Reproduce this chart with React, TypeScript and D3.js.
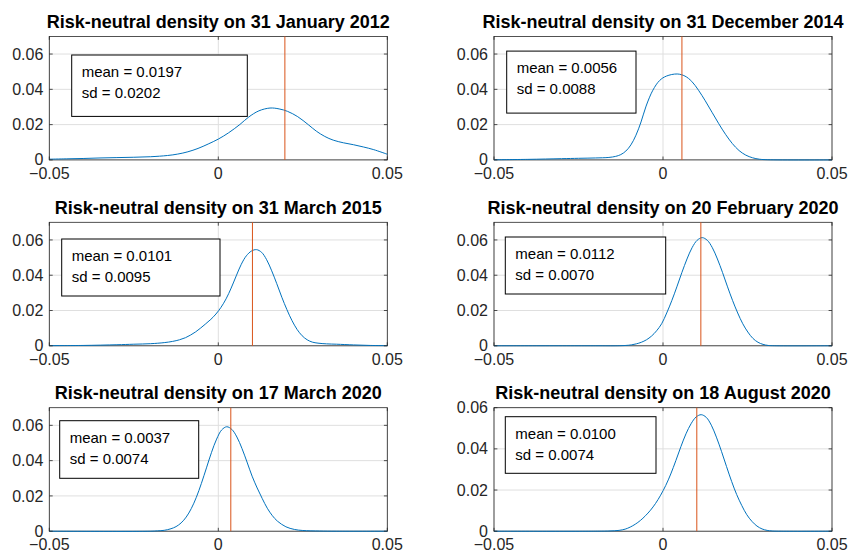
import React from "react";
import * as d3 from "d3";

// ---------- data ----------
const titles = [
  "Risk-neutral density on 31 January 2012",
  "Risk-neutral density on 31 December 2014",
  "Risk-neutral density on 31 March 2015",
  "Risk-neutral density on 20 February 2020",
  "Risk-neutral density on 17 March 2020",
  "Risk-neutral density on 18 August 2020",
];
const means = [0.0197, 0.0056, 0.0101, 0.0112, 0.0037, 0.01];
const meanLabels = ["0.0197", "0.0056", "0.0101", "0.0112", "0.0037", "0.0100"];
const sdLabels = ["0.0202", "0.0088", "0.0095", "0.0070", "0.0074", "0.0074"];
const yMaxes = [0.07, 0.07, 0.07, 0.07, 0.07, 0.06];
const xTicks = [-0.05, 0, 0.05];
const yTicks = [0, 0.02, 0.04, 0.06];

const densJan2012: [number, number][] = [
  [-0.05, 0.0004], [-0.045, 0.0006], [-0.04, 0.0008], [-0.035, 0.0011], [-0.03, 0.0013],
  [-0.025, 0.0015], [-0.02, 0.0018], [-0.015, 0.0025], [-0.012, 0.0033], [-0.009, 0.0046],
  [-0.006, 0.0065], [-0.003, 0.009], [0, 0.0118], [0.003, 0.0153], [0.0064, 0.0201],
  [0.009, 0.0243], [0.012, 0.0278], [0.0153, 0.0294], [0.018, 0.0289], [0.0205, 0.0275],
  [0.0235, 0.0245], [0.0266, 0.02], [0.029, 0.0163], [0.0315, 0.0133], [0.034, 0.0112],
  [0.037, 0.0097], [0.04, 0.0086], [0.043, 0.0073], [0.046, 0.0058], [0.05, 0.0032],
];
const densDec2014: [number, number][] = [
  [-0.05, 0.0001], [-0.04, 0.0003], [-0.03, 0.0007], [-0.025, 0.0009], [-0.02, 0.0011],
  [-0.016, 0.0014], [-0.014, 0.002], [-0.0125, 0.003], [-0.011, 0.005], [-0.0095, 0.0085],
  [-0.008, 0.014], [-0.0065, 0.0215], [-0.005, 0.0305], [-0.003, 0.0395], [-0.001, 0.045],
  [0.001, 0.0475], [0.0042, 0.0487], [0.0065, 0.0475], [0.0085, 0.0445], [0.0105, 0.0395],
  [0.0125, 0.0335], [0.0145, 0.027], [0.0165, 0.0205], [0.0185, 0.0145], [0.0205, 0.0093],
  [0.0225, 0.0053], [0.0245, 0.0027], [0.0265, 0.0012], [0.0285, 0.0004], [0.031, 0.0001],
  [0.05, 0],
];
const densMar2015: [number, number][] = [
  [-0.05, 0.0001], [-0.04, 0.0002], [-0.03, 0.0006], [-0.025, 0.0009], [-0.02, 0.0012],
  [-0.016, 0.0018], [-0.0135, 0.0025], [-0.0115, 0.0034], [-0.0097, 0.0046], [-0.0082, 0.0061],
  [-0.0067, 0.0079], [-0.0052, 0.0101], [-0.0037, 0.0125], [-0.0022, 0.015], [-0.0007, 0.018],
  [0.0008, 0.0218], [0.0023, 0.0266], [0.0038, 0.0327], [0.0053, 0.0396], [0.0068, 0.0462],
  [0.0083, 0.051], [0.0098, 0.0537], [0.0113, 0.0545], [0.0128, 0.053], [0.0143, 0.0488],
  [0.0158, 0.0425], [0.0173, 0.0352], [0.0188, 0.0275], [0.0203, 0.0205], [0.0218, 0.0143],
  [0.0233, 0.0093], [0.0248, 0.0057], [0.0263, 0.0034], [0.0278, 0.0021], [0.0295, 0.0015],
  [0.032, 0.0011], [0.035, 0.0009], [0.04, 0.0005], [0.045, 0.0002], [0.05, 0.0001],
];
const densFeb2020: [number, number][] = [
  [-0.05, 0], [-0.02, 0], [-0.0135, 0], [-0.011, 0.0002], [-0.0094, 0.0005], [-0.0079, 0.0011],
  [-0.0064, 0.002], [-0.0049, 0.0034], [-0.0034, 0.0055], [-0.0019, 0.0085], [-0.0004, 0.0125],
  [0.0011, 0.0186], [0.0026, 0.0256], [0.0041, 0.0334], [0.0056, 0.0416], [0.0071, 0.0492],
  [0.0086, 0.0556], [0.0101, 0.0598], [0.0116, 0.0613], [0.0131, 0.0598], [0.0146, 0.0556],
  [0.0161, 0.0492], [0.0176, 0.0416], [0.0191, 0.0334], [0.0206, 0.0256], [0.0221, 0.0186],
  [0.0236, 0.0125], [0.0251, 0.0078], [0.0266, 0.0042], [0.0281, 0.002], [0.0296, 0.0008],
  [0.0311, 0.0002], [0.033, 0], [0.05, 0],
];
const densMar2020: [number, number][] = [
  [-0.05, 0], [-0.02, 0], [-0.018, 0.0002], [-0.016, 0.0005], [-0.014, 0.0014], [-0.0125, 0.0026],
  [-0.011, 0.0047], [-0.0095, 0.008], [-0.008, 0.0128], [-0.0065, 0.0192], [-0.005, 0.0271],
  [-0.0035, 0.0359], [-0.002, 0.0447], [-0.0005, 0.0522], [0.001, 0.0574], [0.0025, 0.0592],
  [0.004, 0.0577], [0.0055, 0.0534], [0.007, 0.0469], [0.0085, 0.0392], [0.01, 0.0312],
  [0.0115, 0.0245], [0.013, 0.0185], [0.0145, 0.013], [0.016, 0.0088], [0.0175, 0.0057],
  [0.02, 0.0025], [0.0225, 0.001], [0.025, 0.0004], [0.03, 0.0001], [0.035, 0], [0.05, 0],
];
const densAug2020: [number, number][] = [
  [-0.05, 0], [-0.02, 0], [-0.016, 0.0001], [-0.013, 0.0004], [-0.0112, 0.001], [-0.0097, 0.002],
  [-0.0082, 0.0034], [-0.0067, 0.0052], [-0.0052, 0.0075], [-0.0037, 0.0102], [-0.0022, 0.0135],
  [-0.0007, 0.0175], [0.0008, 0.0222], [0.0023, 0.0278], [0.0038, 0.0343], [0.0053, 0.0411],
  [0.0068, 0.0473], [0.0083, 0.0522], [0.0098, 0.0555], [0.0113, 0.0566], [0.0128, 0.0553],
  [0.0143, 0.0515], [0.0158, 0.0457], [0.0173, 0.0388], [0.0188, 0.0314], [0.0203, 0.0242],
  [0.0218, 0.0178], [0.0233, 0.0125], [0.0248, 0.008], [0.0263, 0.0048], [0.0278, 0.0025],
  [0.0293, 0.0011], [0.0308, 0.0004], [0.0323, 0.0001], [0.035, 0], [0.05, 0],
];
const densities = [densJan2012, densDec2014, densMar2015, densFeb2020, densMar2020, densAug2020];

// ---------- layout ----------
const W = 850;
const H = 554;
const colLeft = [49.3, 494];
const rowTop = [36.4, 222.3, 407.7];
const PW = 338;
const PH = 123.5;
// legend box offsets relative to plot origin: [dx, dy, w, h]
const boxes = [
  [22.4, 18.6, 175.6, 61.4],
  [12.7, 14.7, 129.3, 62],
  [12.4, 16.7, 158.3, 57],
  [11.3, 14.7, 160.4, 57],
  [10.4, 13, 139, 57.6],
  [11.3, 9, 150.7, 56.6],
];

const BLUE = "#0072BD";
const ORANGE = "#D95319";
const AXIS = "#262626";
const GRID = "#dfdfdf";
const FONT = "'Liberation Sans', Arial, Helvetica, sans-serif";

function fmtTick(v: number) {
  if (v === 0) return "0";
  return d3.format(".2f")(v);
}

function Panel({ i }: { i: number }) {
  const left = colLeft[i % 2];
  const top = rowTop[Math.floor(i / 2)];
  const x = d3.scaleLinear().domain([-0.05, 0.05]).range([0, PW]);
  const y = d3.scaleLinear().domain([0, yMaxes[i]]).range([PH, 0]);
  const line = d3
    .line<[number, number]>()
    .x((d) => x(d[0]))
    .y((d) => y(d[1]))
    .curve(d3.curveCatmullRom.alpha(0.5));
  const yt = yTicks.filter((t) => t <= yMaxes[i] + 1e-9);
  const [bx, by, bw, bh] = boxes[i];
  const tick = 3.4;
  return (
    <g transform={`translate(${left},${top})`}>
      <rect x={0} y={0} width={PW} height={PH} fill="#fff" />
      {xTicks.map((t) => (
        <line key={"gx" + t} x1={x(t)} x2={x(t)} y1={0} y2={PH} stroke={GRID} strokeWidth={1} />
      ))}
      {yt.map((t) => (
        <line key={"gy" + t} x1={0} x2={PW} y1={y(t)} y2={y(t)} stroke={GRID} strokeWidth={1} />
      ))}
      <defs>
        <clipPath id={"clip" + i}>
          <rect x={-1} y={-1} width={PW + 2} height={PH + 2} />
        </clipPath>
      </defs>
      <rect x={0} y={0} width={PW} height={PH} fill="none" stroke={AXIS} strokeWidth={0.8} />
      <path
        d={line(densities[i]) || ""}
        fill="none"
        stroke={BLUE}
        strokeWidth={1}
        clipPath={`url(#clip${i})`}
      />
      <line x1={x(means[i])} x2={x(means[i])} y1={y(0)} y2={0} stroke={ORANGE} strokeWidth={1} />
      {xTicks.map((t) => (
        <g key={"tx" + t}>
          <line x1={x(t)} x2={x(t)} y1={PH} y2={PH - tick} stroke={AXIS} strokeWidth={0.8} />
          <line x1={x(t)} x2={x(t)} y1={0} y2={tick} stroke={AXIS} strokeWidth={0.8} />
          <text x={x(t)} y={PH + 19} textAnchor="middle" fontSize={16} fill={AXIS} fontFamily={FONT}>
            {fmtTick(t)}
          </text>
        </g>
      ))}
      {yt.map((t) => (
        <g key={"ty" + t}>
          <line x1={0} x2={tick} y1={y(t)} y2={y(t)} stroke={AXIS} strokeWidth={0.8} />
          <line x1={PW} x2={PW - tick} y1={y(t)} y2={y(t)} stroke={AXIS} strokeWidth={0.8} />
          <text x={-6} y={y(t)} dy="0.35em" textAnchor="end" fontSize={16} fill={AXIS} fontFamily={FONT}>
            {fmtTick(t)}
          </text>
        </g>
      ))}
      <text x={PW / 2} y={-8.5} textAnchor="middle" fontSize={18} fontWeight="bold" fill="#000" fontFamily={FONT}>
        {titles[i]}
      </text>
      <rect x={bx} y={by} width={bw} height={bh} fill="#fff" stroke="#000" strokeWidth={1} />
      <text x={bx + 10} y={by + 22} fontSize={15} fill="#000" fontFamily={FONT}>
        {`mean = ${meanLabels[i]}`}
      </text>
      <text x={bx + 10} y={by + 43} fontSize={15} fill="#000" fontFamily={FONT}>
        {`sd = ${sdLabels[i]}`}
      </text>
    </g>
  );
}

export default function App() {
  return (
    <svg
      width={W}
      height={H}
      viewBox={`0 0 ${W} ${H}`}
      style={{ position: "absolute", left: 0, top: 0, background: "#fff" }}
    >
      <rect x={0} y={0} width={W} height={H} fill="#fff" />
      {titles.map((_, i) => (
        <Panel key={i} i={i} />
      ))}
    </svg>
  );
}
